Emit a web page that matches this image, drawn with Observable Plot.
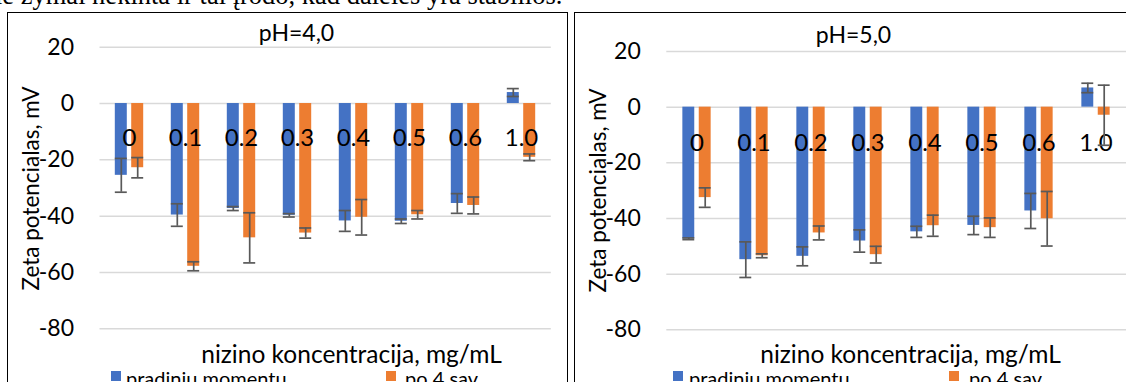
<!DOCTYPE html>
<html>
<head>
<meta charset="utf-8">
<script src="https://cdn.jsdelivr.net/npm/d3@7"></script>
<script src="https://cdn.jsdelivr.net/npm/@observablehq/plot@0.6"></script>
<style>
  html, body { margin: 0; padding: 0; background: #fff; }
  body { width: 1126px; height: 382px; overflow: hidden; position: relative; font-family: Lato, "Open Sans", sans-serif; }
  .box { position: absolute; border: 1.5px solid #000; box-sizing: border-box; z-index: 3; pointer-events: none; }
  .holder { position: absolute; top: 0; }
  .holder svg { max-width: none !important; background: none !important; }
  .toptext { position: absolute; left: -5px; top: -18px; font-family: "Liberation Serif", serif; font-size: 26.5px; line-height: 26.5px; white-space: nowrap; color: #000; }
  .legend { position: absolute; font-size: 20px; line-height: 16px; white-space: nowrap; color: #000; }
  .sw { position: absolute; width: 10px; height: 10px; }
</style>
</head>
<body>
<script>
// ---- data ----
const categories = ["0", "0.1", "0.2", "0.3", "0.4", "0.5", "0.6", "1.0"];
const yTicks = [20, 0, -20, -40, -60, -80];
const seriesNames = ["pradiniu momentu", "po 4 sav."];
const seriesColors = ["#4472C4", "#ED7D31"];
const panelTitles = ["pH=4,0", "pH=5,0"];
const yLabel = "Zeta potencialas, mV";
const xLabel = "nizino koncentracija, mg/mL";
const topText = "ie žymai nekinta ir tai įrodo, kad dalelės yra stabilios.";

const ph4Initial    = [-25.5, -39.6, -37.3, -39.7, -41.7, -41.8, -35.5, 3.9];
const ph4InitialErr = [6.0, 4.0, 0.7, 0.6, 3.7, 0.8, 3.5, 1.4];
const ph4After      = [-22.8, -57.8, -47.7, -46.0, -40.4, -39.5, -36.2, -19.1];
const ph4AfterErr   = [3.6, 1.6, 8.9, 1.8, 6.3, 1.5, 3.0, 1.2];

const ph5Initial    = [-47.3, -54.8, -53.6, -48.1, -44.8, -42.5, -37.3, 6.9];
const ph5InitialErr = [0.3, 6.4, 3.4, 4.0, 2.0, 3.3, 6.3, 1.7];
const ph5After      = [-32.5, -53.4, -45.2, -53.0, -42.6, -43.3, -40.1, -2.9];
const ph5AfterErr   = [3.5, 0.7, 2.5, 3.0, 3.8, 3.5, 9.8, 10.8];

// ---- drawing ----
const tt = document.createElement("div");
tt.className = "toptext";
tt.textContent = topText;
document.body.appendChild(tt);

function panel(cfg, initial, initialErr, after, afterErr, title) {
  const rowsA = categories.map((c, i) => ({c, v: initial[i], e: initialErr[i]}));
  const rowsB = categories.map((c, i) => ({c, v: after[i], e: afterErr[i]}));
  const bw = (cfg.width - cfg.marginLeft - cfg.marginRight) / categories.length;
  const gap = 4, barW = 12.4;
  const aL = bw / 2 - gap / 2 - barW, aR = bw / 2 + gap / 2;
  const bL = bw / 2 + gap / 2, bR = bw / 2 - gap / 2 - barW;
  const off = gap / 2 + barW / 2;
  const errStyle = {stroke: "#595959", strokeWidth: 1.7};
  // page coordinates -> svg coordinates
  const L = cfg.left;
  const frameCx = L + cfg.marginLeft + (cfg.width - cfg.marginLeft - cfg.marginRight) / 2;
  const frameLeft = L + cfg.marginLeft;
  const frameTop = cfg.marginTop, frameBottom = cfg.height - cfg.marginBottom;

  const chart = Plot.plot({
    width: cfg.width,
    height: cfg.height,
    marginLeft: cfg.marginLeft,
    marginRight: cfg.marginRight,
    marginTop: cfg.marginTop,
    marginBottom: cfg.marginBottom,
    style: {fontFamily: "Lato, sans-serif", fontSize: "23px", color: "#000", background: "none", overflow: "visible"},
    x: {type: "band", domain: categories, padding: 0, axis: null},
    y: {domain: [-80, 20], ticks: yTicks, tickSize: 0, tickPadding: cfg.tickPadding, tickFormat: d => String(d), label: null},
    marks: [
      Plot.ruleY(yTicks, {stroke: "#d9d9d9", strokeWidth: 1.5}),
      Plot.barY(rowsA, {x: "c", y: "v", fill: seriesColors[0], insetLeft: aL, insetRight: aR}),
      Plot.barY(rowsB, {x: "c", y: "v", fill: seriesColors[1], insetLeft: bL, insetRight: bR}),
      Plot.text(categories, {x: d => d, text: d => d, frameAnchor: "top", dy: cfg.catY - frameTop, lineAnchor: "middle", fontSize: 24, fill: "#000"}),
      Plot.ruleX(rowsA, {x: "c", y1: d => d.v - d.e, y2: d => d.v + d.e, dx: -off, ...errStyle}),
      Plot.tickY(rowsA, {x: "c", y: d => d.v - d.e, insetLeft: aL, insetRight: aR, ...errStyle}),
      Plot.tickY(rowsA, {x: "c", y: d => d.v + d.e, insetLeft: aL, insetRight: aR, ...errStyle}),
      Plot.ruleX(rowsB, {x: "c", y1: d => d.v - d.e, y2: d => d.v + d.e, dx: off, ...errStyle}),
      Plot.tickY(rowsB, {x: "c", y: d => d.v - d.e, insetLeft: bL, insetRight: bR, ...errStyle}),
      Plot.tickY(rowsB, {x: "c", y: d => d.v + d.e, insetLeft: bL, insetRight: bR, ...errStyle}),
      Plot.text([title], {text: d => d, frameAnchor: "top", textAnchor: "middle", dx: cfg.titleX - frameCx, dy: cfg.titleY - frameTop, lineAnchor: "middle", fontSize: 23, fill: "#000"}),
      Plot.text([yLabel], {text: d => d, frameAnchor: "left", textAnchor: "middle", dx: cfg.ylabelX - frameLeft, dy: cfg.ylabelY - (frameTop + frameBottom) / 2, rotate: -90, lineAnchor: "middle", fontSize: 22.5, fill: "#000"}),
      Plot.text([xLabel], {text: d => d, frameAnchor: "bottom", textAnchor: "middle", dx: cfg.xlabelX - frameCx, dy: cfg.xlabelY - frameBottom, lineAnchor: "middle", fontSize: 24.5, fill: "#000"})
    ]
  });
  const holder = document.createElement("div");
  holder.className = "holder";
  holder.style.left = cfg.left + "px";
  holder.appendChild(chart);
  document.body.appendChild(holder);

  const box = document.createElement("div");
  box.className = "box";
  box.style.left = cfg.boxLeft + "px";
  box.style.top = "12px";
  box.style.width = cfg.boxWidth + "px";
  box.style.height = "420px";
  document.body.appendChild(box);

  seriesNames.forEach((name, i) => {
    const sw = document.createElement("div");
    sw.className = "sw";
    sw.style.background = seriesColors[i];
    sw.style.left = cfg.legendSw[i] + "px";
    sw.style.top = "371px";
    document.body.appendChild(sw);
    const lg = document.createElement("div");
    lg.className = "legend";
    lg.textContent = name;
    lg.style.left = cfg.legendTx[i] + "px";
    lg.style.top = "370px";
    document.body.appendChild(lg);
  });
}

panel({
  left: 0, width: 566, height: 400,
  marginLeft: 99.5, marginRight: 15.2, marginTop: 46.7, marginBottom: 71.7,
  tickPadding: 26, catY: 138, titleX: 296, titleY: 33.5, ylabelX: 31, ylabelY: 188,
  xlabelX: 351, xlabelY: 355, boxLeft: 7, boxWidth: 560.5,
  legendSw: [111, 386], legendTx: [126, 405]
}, ph4Initial, ph4InitialErr, ph4After, ph4AfterErr, panelTitles[0]);

panel({
  left: 574, width: 560, height: 400,
  marginLeft: 92.3, marginRight: 7.7, marginTop: 51, marginBottom: 70.7,
  tickPadding: 26, catY: 142.5, titleX: 853, titleY: 35, ylabelX: 598, ylabelY: 190,
  xlabelX: 910, xlabelY: 355, boxLeft: 573.5, boxWidth: 600,
  legendSw: [673, 949], legendTx: [689, 969]
}, ph5Initial, ph5InitialErr, ph5After, ph5AfterErr, panelTitles[1]);
</script>
</body>
</html>
